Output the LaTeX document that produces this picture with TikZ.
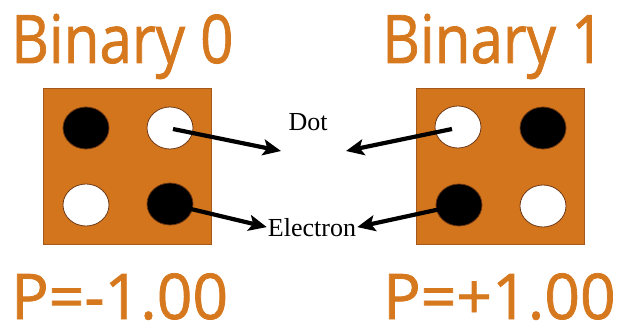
\documentclass[tikz,border=0pt]{standalone}
\usepackage{fontspec}
\setmainfont{Liberation Serif}
\newfontfamily\lab[FakeBold=1.2]{Open Sans}
\usetikzlibrary{shapes.geometric,arrows.meta}
\definecolor{boxor}{RGB}{211,117,28}
\definecolor{boxedge}{RGB}{165,88,25}
\definecolor{txtor}{RGB}{214,120,30}
\definecolor{ringbr}{RGB}{110,55,20}
\tikzset{
  board/.style={rectangle,fill=boxor,draw=boxedge,line width=0.8pt,minimum width=168pt,minimum height=156pt,inner sep=0pt},
  holeb/.style={ellipse,fill=black,draw=ringbr,line width=0.8pt,minimum width=46pt,minimum height=42pt,inner sep=0pt},
  holew/.style={ellipse,fill=white,draw=ringbr,line width=0.8pt,minimum width=46pt,minimum height=42pt,inner sep=0pt},
  title/.style={anchor=base west,inner sep=0pt,text=txtor,text depth=0pt},
  lbl/.style={anchor=base,inner sep=1pt,font=\fontsize{26}{26}\selectfont},
  arr/.style={line width=4.2pt,-{Stealth[length=18pt,width=16pt,inset=4pt]}}
}
\begin{document}
\begin{tikzpicture}[x=1pt,y=-1pt]
\useasboundingbox (0,0) rectangle (623,326);
% boards
\node[board] (L) at (127,166) {};
\node[board] (R) at (500,166.5) {};
% left holes
\node[holeb] (l11) at (86,128) {};
\node[holew] (l12) at (170,128) {};
\node[holew] (l21) at (86,205) {};
\node[holeb] (l22) at (170,204) {};
% right holes
\node[holew] (r11) at (458,127) {};
\node[holeb] (r12) at (543,128) {};
\node[holeb] (r21) at (459,205) {};
\node[holew] (r22) at (543,206) {};
% labels
\node[lbl] (dot) at (308,130) {Dot};
\node[lbl] (el) at (312,236) {Electron};
\coordinate (dotL) at (281,151);
\coordinate (dotR) at (346,151);
% arrows
\draw[arr] (l12.center) ++(3,1) -- (dotL);
\draw[arr] (r11.center) ++(-6,2) -- (dotR);
\draw[arr] (l22.center) -- (el.west);
\draw[arr] (r21.center) -- (el.east);
% titles
\node[title] (b0) at (11,63) {\scalebox{0.87}[1]{\lab\fontsize{67}{67}\selectfont Binary 0}};
\node[title] (b1) at (382,63) {\scalebox{0.87}[1]{\lab\fontsize{67}{67}\selectfont Binary 1}};
\node[title] (p0) at (11,319) {\scalebox{0.99}[1]{\lab\fontsize{63}{63}\selectfont P=-1.00}};
\node[title] (p1) at (383,319) {\scalebox{0.99}[1]{\lab\fontsize{63}{63}\selectfont P=+1.00}};
\end{tikzpicture}
\end{document}
